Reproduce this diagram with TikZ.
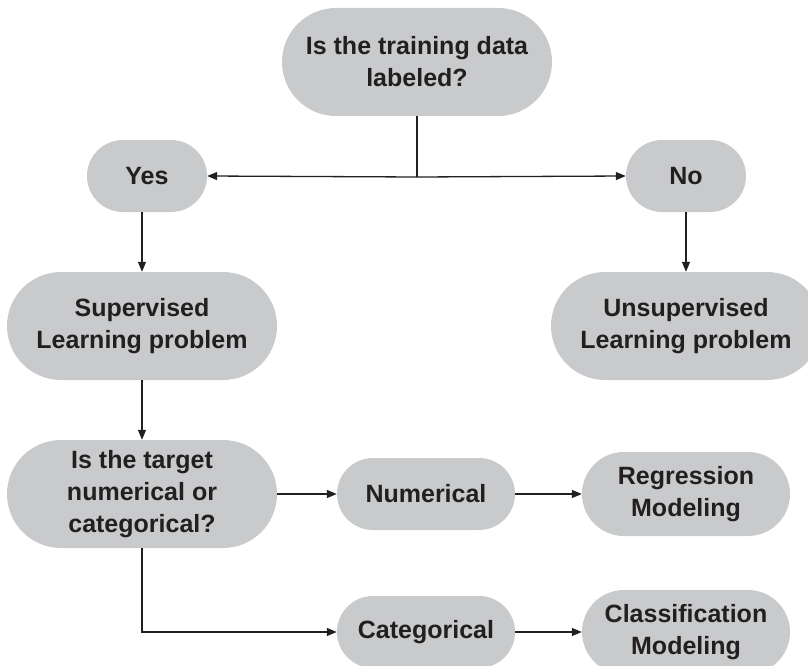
\documentclass[tikz,border=0pt]{standalone}
\usepackage{fontspec}
\setmainfont{Liberation Sans}
\usetikzlibrary{arrows.meta}
\definecolor{boxfill}{HTML}{C9CACC}
\definecolor{ink}{HTML}{231F20}
\begin{document}
\begin{tikzpicture}[x=1pt,y=-1pt,
  pill/.style={fill=boxfill, draw=none, inner sep=0pt, align=center,
    text=ink, font=\fontsize{25}{32}\selectfont\bfseries},
  pillS/.style={pill, minimum width=#1, minimum height=72pt, rounded corners=36pt},
  pillM/.style={pill, minimum width=#1, minimum height=84pt, rounded corners=42pt},
  pillL/.style={pill, minimum width=270pt, minimum height=108pt, rounded corners=54pt},
  link/.style={draw=ink, line width=1.3pt},
  arr/.style={link, -{Triangle[length=10pt,width=8pt]}}
]
\useasboundingbox (0,0) rectangle (808,666);
\clip (0,0) rectangle (808,666);

% decision and outcome boxes
\node[pillL] (q1) at (417,62) {Is the training data\\labeled?};
\node[pillS=120pt] (yes) at (147,176) {Yes};
\node[pillS=120pt] (no) at (686,176) {No};
\node[pillL] (sup) at (142,326) {Supervised\\Learning problem};
\node[pillL] (unsup) at (686,326) {Unsupervised\\Learning problem};
\node[pillL] (q2) at (142,494) {Is the target\\numerical or\\categorical?};
\node[pillS=178pt] (num) at (426,494) {Numerical};
\node[pillS=178pt] (cat) at (426,632) {Categorical};
\node[pillM=208pt] (reg) at (686,494) {Regression\\Modeling};
\node[pillM=208pt] (cls) at (686,632) {Classification\\Modeling};

% branching from the first question
\coordinate (split) at (417,177);
\draw[link] (q1.south) -- (split);
\draw[arr] (split) -- (yes.east);
\draw[arr] (split) -- (no.west);

% vertical flow
\draw[arr] (yes.south -| sup.north) -- (sup.north);
\draw[arr] (no.south) -- (unsup.north);
\draw[arr] (sup.south) -- (q2.north);

% target type branches
\draw[arr] (q2.east) -- (num.west);
\draw[arr] (q2.south) |- (cat.west);
\draw[arr] (num.east) -- (reg.west);
\draw[arr] (cat.east) -- (cls.west);
\end{tikzpicture}
\end{document}
